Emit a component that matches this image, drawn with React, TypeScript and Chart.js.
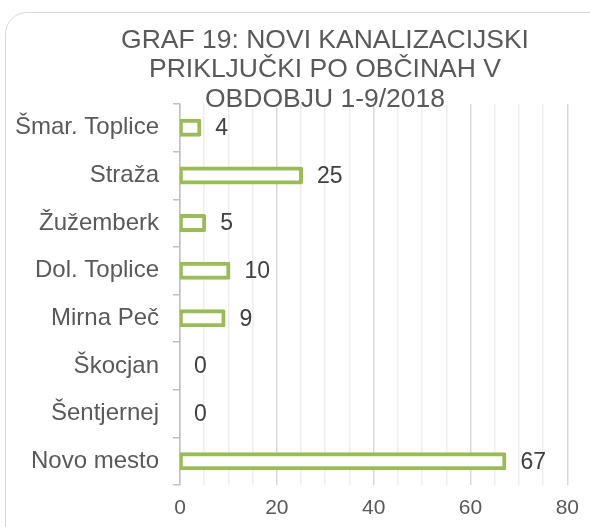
import React, { useEffect, useRef } from "react";
import { Chart, registerables } from "chart.js";

Chart.register(...registerables);

const categories = [
  "Šmar. Toplice",
  "Straža",
  "Žužemberk",
  "Dol. Toplice",
  "Mirna Peč",
  "Škocjan",
  "Šentjernej",
  "Novo mesto",
];
const values = [4, 25, 5, 10, 9, 0, 0, 67];
const titleLines = ["GRAF 19: NOVI KANALIZACIJSKI", "PRIKLJUČKI PO OBČINAH V", "OBDOBJU 1-9/2018"];
const xMin = 0;
const xMax = 80;
const xStep = 5;
const xLabelStep = 20;

const FONT = "'Liberation Sans', Arial, sans-serif";

const titlePlugin = {
  id: "customTitle",
  afterDraw(chart: any) {
    const ctx = chart.ctx;
    ctx.save();
    ctx.fillStyle = "#595959";
    ctx.font = `26.5px ${FONT}`;
    ctx.textAlign = "center";
    ctx.textBaseline = "alphabetic";
    titleLines.forEach((t, i) => {
      ctx.fillText(t, 325, 48 + i * 29.25);
    });
    ctx.restore();
  },
};

const valueLabelPlugin = {
  id: "valueLabels",
  afterDatasetsDraw(chart: any) {
    const ctx = chart.ctx;
    const meta = chart.getDatasetMeta(0);
    ctx.save();
    ctx.fillStyle = "#404040";
    ctx.font = `23px ${FONT}`;
    ctx.textAlign = "left";
    ctx.textBaseline = "middle";
    meta.data.forEach((bar: any, i: number) => {
      const extra = values[i] ? 2 : 0;
      ctx.fillText(String(values[i]), bar.x + extra + 14, bar.y + 1);
    });
    ctx.restore();
  },
};

export default function App() {
  const ref = useRef<HTMLCanvasElement>(null);
  useEffect(() => {
    const chart = new Chart(ref.current!, {
      type: "bar",
      data: {
        labels: categories,
        datasets: [
          {
            data: values,
            backgroundColor: "#ffffff",
            borderColor: "#9bbb59",
            borderWidth: 4,
            borderSkipped: false,
            borderRadius: 2,
            barThickness: 14,
            inflateAmount: (c: any) => (c.raw ? 2 : 0),
          } as any,
        ],
      },
      options: {
        indexAxis: "y",
        animation: false,
        responsive: false,
        devicePixelRatio: 1,
        layout: { padding: { top: 104, right: 18, bottom: 0, left: 0 } },
        plugins: {
          legend: { display: false },
          title: { display: false },
          tooltip: { enabled: false },
        },
        scales: {
          x: {
            min: xMin,
            max: xMax,
            afterFit: (s: any) => {
              s.height = 42;
            },
            ticks: {
              stepSize: xStep,
              autoSkip: false,
              maxRotation: 0,
              padding: 11,
              color: "#595959",
              font: { family: FONT, size: 21 },
              callback: (v: any) => (Number(v) % xLabelStep === 0 ? String(v) : ""),
            },
            grid: {
              drawTicks: false,
              color: (c: any) =>
                c.tick && c.tick.value % xLabelStep === 0 ? "#d9d9d9" : "#eeeeee",
              lineWidth: 1.5,
            },
            border: { display: false },
          },
          y: {
            afterFit: (s: any) => {
              s.width = 180;
            },
            ticks: {
              padding: 14,
              color: "#595959",
              font: { family: FONT, size: 24 },
            },
            grid: {
              offset: true,
              drawOnChartArea: false,
              tickLength: 7,
              color: "#bfbfbf",
              lineWidth: 1.5,
            },
            border: { display: true, color: "#bfbfbf", width: 1.5 },
          },
        },
      },
      plugins: [titlePlugin, valueLabelPlugin],
    });
    return () => chart.destroy();
  }, []);

  return (
    <div style={{ position: "fixed", left: 0, top: 0, width: 590, height: 527, background: "#fff", overflow: "hidden" }}>
      <div
        style={{
          position: "absolute",
          left: 5,
          top: 12,
          width: 620,
          height: 560,
          border: "1.5px solid #d9d9d9",
          borderRadius: 22,
          boxSizing: "border-box",
        }}
      />
      <canvas ref={ref} width={590} height={527} style={{ position: "absolute", left: 0, top: 0 }} />
    </div>
  );
}
